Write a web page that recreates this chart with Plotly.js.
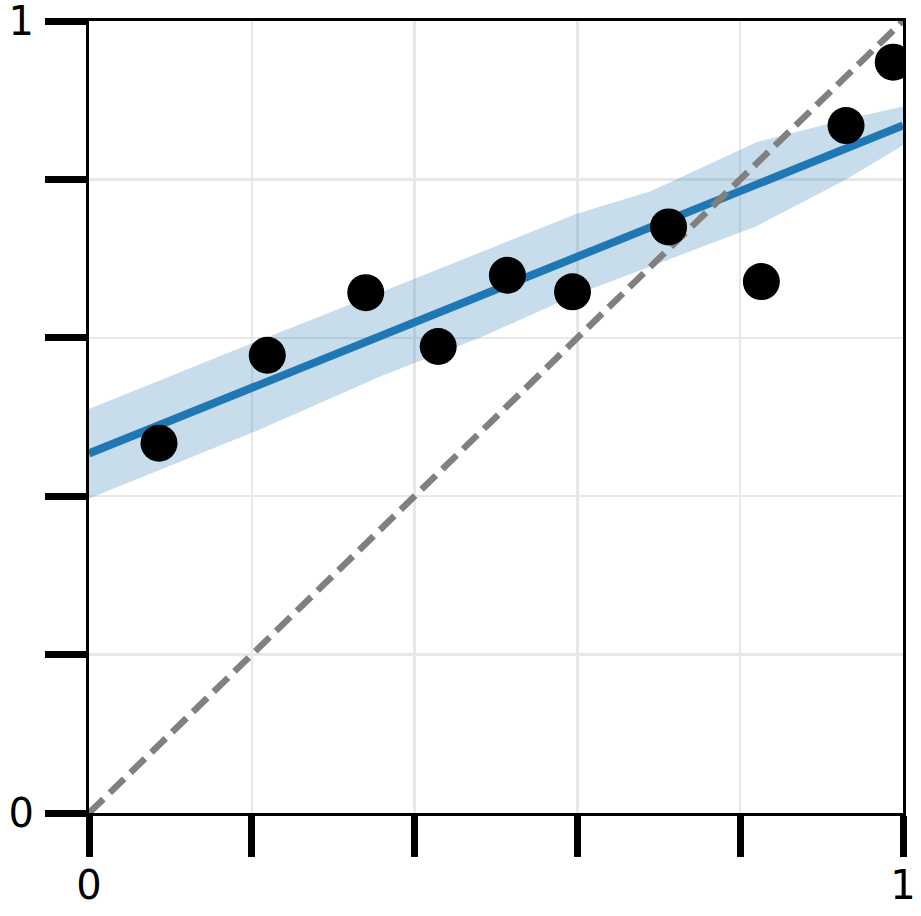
<!DOCTYPE html>
<html>
<head>
<meta charset="utf-8">
<script src="https://cdn.plot.ly/plotly-3.0.1.min.js"></script>
<style>
  html, body { margin: 0; padding: 0; background: #fff; }
  #chart { width: 921px; height: 916px; }
</style>
</head>
<body>
<div id="chart"></div>
<script>
// ----- data -----
const pointX = [0.086, 0.219, 0.340, 0.429, 0.514, 0.594, 0.712, 0.826, 0.930, 0.988];
const pointY = [0.467, 0.578, 0.657, 0.589, 0.679, 0.658, 0.740, 0.671, 0.868, 0.948];

// fitted line and its band
const fitX = [0, 0.2, 0.36, 0.48, 0.6, 0.69, 0.82, 0.93, 1];
const fitMean = [0.454, 0.537, 0.603, 0.653, 0.702, 0.740, 0.793, 0.839, 0.868];
const fitUpper = [0.510, 0.593, 0.658, 0.707, 0.757, 0.785, 0.847, 0.876, 0.892];
const fitLower = [0.397, 0.480, 0.552, 0.600, 0.655, 0.690, 0.741, 0.800, 0.843];

// identity reference
const diagX = [0, 1];
const diagY = [0, 1];

const tickVals = [0, 0.2, 0.4, 0.6, 0.8, 1];
const tickText = ["0", "", "", "", "", "1"];

// ----- traces -----
const band = {
  x: fitX.concat(fitX.slice().reverse()),
  y: fitUpper.concat(fitLower.slice().reverse()),
  type: "scatter",
  mode: "lines",
  fill: "toself",
  fillcolor: "rgba(31,119,180,0.25)",
  line: { width: 0 },
  hoverinfo: "skip"
};

const meanLine = {
  x: fitX,
  y: fitMean,
  type: "scatter",
  mode: "lines",
  line: { color: "#1f77b4", width: 8 }
};

const diag = {
  x: diagX,
  y: diagY,
  type: "scatter",
  mode: "lines",
  line: { color: "#808080", width: 6.5, dash: "20px,9px" }
};

const points = {
  x: pointX,
  y: pointY,
  type: "scatter",
  mode: "markers",
  marker: { color: "#000", size: 37, line: { width: 0 } }
};

const axisCommon = {
  range: [0, 1],
  tickvals: tickVals,
  ticktext: tickText,
  ticks: "outside",
  ticklen: 41,
  tickwidth: 7,
  tickcolor: "#000",
  showline: true,
  mirror: true,
  linecolor: "#000",
  linewidth: 3,
  showgrid: true,
  gridcolor: "#e8e8e8",
  gridwidth: 2.5,
  zeroline: false,
  ticklabeloverflow: "allow",
  tickfont: { family: "DejaVu Sans", size: 40, color: "#000" }
};

const layout = {
  width: 921,
  height: 916,
  margin: { l: 89, r: 18, t: 21, b: 103 },
  paper_bgcolor: "#fff",
  plot_bgcolor: "#fff",
  showlegend: false,
  xaxis: Object.assign({}, axisCommon, { ticklabelstandoff: -6 }),
  yaxis: Object.assign({}, axisCommon, { ticklabelstandoff: 3 })
};

Plotly.newPlot("chart", [band, meanLine, diag, points], layout, { staticPlot: true });
</script>
</body>
</html>
